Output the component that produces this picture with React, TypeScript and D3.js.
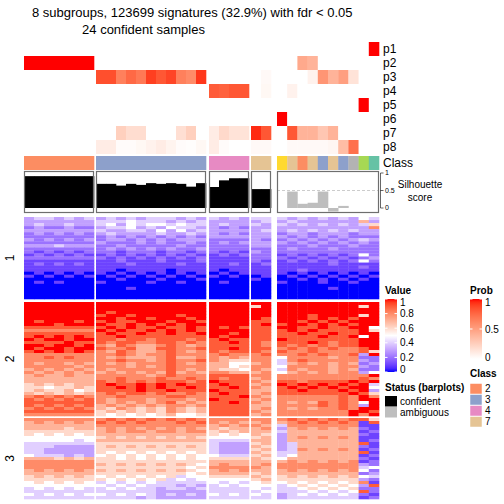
import React from "react";
import * as d3 from "d3";

// ---------- data ----------
const titleLine1 = "8 subgroups, 123699 signatures (32.9%) with fdr < 0.05";
const titleLine2 = "24 confident samples";

const groupSizes = [7, 11, 4, 2, 10];
const sampleClass = [
  2, 2, 2, 2, 2, 2, 2,
  3, 3, 3, 3, 3, 3, 3, 3, 3, 3, 3,
  4, 4, 4, 4,
  7, 7,
  6, 7, 2, 7, 3, 7, 3, 8, 5, 1,
];
const sampleConfident = [
  1, 1, 1, 1, 1, 1, 1,
  1, 1, 1, 1, 1, 1, 1, 1, 1, 1, 1,
  1, 1, 1, 1,
  1, 1,
  0, 0, 0, 0, 0, 0, 0, 0, 0, 0,
];
const silhouette = [
  0.91, 0.91, 0.91, 0.91, 0.91, 0.91, 0.91,
  0.69, 0.69, 0.64, 0.69, 0.66, 0.71, 0.69, 0.71, 0.69, 0.61, 0.71,
  0.6, 0.79, 0.85, 0.85,
  0.54, 0.54,
  0, 0.47, 0.12, 0.15, 0.47, -0.1, 0.06, 0, 0, 0,
];
const p1 = [0,0,0,0,0,0,0, 0,0,0,0,0,0,0,0,0,0,0, 0,0,0,0, 0,0, 0,0,0,0,0,0,0,0,0,1];
const p2 = [1,1,1,1,1,1,1, 0,0,0,0,0,0,0,0,0,0,0, 0,0,0,0, 0,0, 0,0,0.45,0.4,0,0,0,0,0,0];
const p3 = [0,0,0,0,0,0,0, 0.85,0.85,0.65,0.75,0.68,0.9,0.82,0.88,0.65,0.6,0.92, 0,0,0,0, 0,0.03, 0,0,0,0.07,0.55,0.4,0.5,0.15,0,0];
const p4 = [0,0,0,0,0,0,0, 0,0,0,0,0,0,0,0,0,0,0, 0.8,0.78,0.82,0.82, 0,0.04, 0,0.07,0,0,0,0,0,0,0,0];
const p5 = [0,0,0,0,0,0,0, 0,0,0,0,0,0,0,0,0,0,0, 0,0,0,0, 0,0, 0,0,0,0,0,0,0,0,1,0];
const p6 = [0,0,0,0,0,0,0, 0,0,0,0,0,0,0,0,0,0,0, 0,0,0,0, 0,0, 1,0,0,0,0,0,0,0,0,0];
const p7 = [0,0,0,0,0,0,0, 0,0,0.25,0.18,0.18,0,0,0,0.17,0.25,0, 0.1,0.2,0.15,0.15, 0.95,0.82, 0,0.82,0.4,0.4,0.3,0.4,0,0,0,0];
const p8 = [0,0,0,0,0,0,0, 0.1,0.1,0.02,0.02,0.04,0.07,0.1,0.06,0.02,0.01,0.04, 0.1,0.02,0,0, 0.03,0.03, 0,0.03,0.03,0.03,0.03,0.05,0.35,0.72,0,0];
const probRows = [p1, p2, p3, p4, p5, p6, p7, p8];
const probLabels = ["p1", "p2", "p3", "p4", "p5", "p6", "p7", "p8"];

const classColors: Record<number, string> = {
  1: "#66C2A5", 2: "#FC8D62", 3: "#8DA0CB", 4: "#E78AC3",
  5: "#A6D854", 6: "#FFD92F", 7: "#E5C494", 8: "#B3B3B3",
};
const legendClasses = [2, 3, 4, 7];
const valueTicks = [0, 0.2, 0.4, 0.6, 0.8, 1];
const probTicks = [0, 0.5, 1];
const silTicks = [0, 0.5, 1];
const splitLabels = ["1", "2", "3"];

// heatmap rows: digits 0-9 = value/10, "a" = 1 ; groups separated by spaces
const split1 = [
  "3443434 34343444343 4343 44 4343434354",
  "3333333 44454443434 3333 34 3433333373",
  "3433433 45354554544 3433 43 4343434346",
  "2322322 34453435443 3232 33 3333333338",
  "3333333 43344353534 3333 34 3434343433",
  "2323232 34333343343 3232 33 2332333233",
  "2222222 23232323232 3333 33 3232323222",
  "3232323 23323232333 2222 32 2323232343",
  "2222222 32223232232 2323 33 3232323232",
  "3334333 22322222322 2222 33 2223222322",
  "2222222 23232323223 2222 22 2322232222",
  "2121212 22122212212 2121 32 2222222222",
  "1212121 12121212121 1212 22 1212121252",
  "2222222 21212121212 1111 22 2121212123",
  "1111111 11211121112 1111 21 1212121252",
  "1212121 11121111211 1121 12 1111121111",
  "1111111 11111111111 1111 11 1111111121",
  "1111111 11011110111 1011 11 1121111111",
  "0101010 10101010101 0101 11 1010101010",
  "1010101 01010101010 1010 01 0101010101",
  "0000000 00100010001 0000 10 0010101010",
  "0101000 10000100100 0100 00 1000100100",
  "0000000 00000000000 0000 00 0000000000",
  "0000000 00010000000 0000 00 0000010000",
  "0000000 00000000000 0000 00 0000000000",
  "0000000 00000000000 0000 00 0000000000",
  "0000000 00000000000 0000 00 0000000000",
];
const split2 = [
  "aaaaaaa aaaaaaaaaaa aaaa aa aaaaaaaaaa",
  "aaaaaaa aaaaaaaaaaa aaaa 6a aaaaaaaa6a",
  "aaaaaaa aaaaaaaaaaa aaaa aa aaaaaaaaaa",
  "aaaaaaa a9aaaaaaaaa aaaa aa aaaaaaaaaa",
  "aaaaaaa 9aa9aaaa9aa aaaa aa aaa9aaaa6a",
  "aaaaaaa aa9aa9aaa9a aaaa a9 aaa9a9a9aa",
  "a9aaa9a 9a99aaa9aa9 aaaa 99 aa9a9a9aaa",
  "aaa9aaa a99a9a9a9aa aaaa 9a 9aa9a9a9aa",
  "9999999 9a9a99a99a9 a9a9 99 aa99a99aa5",
  "8888888 a9a99a9a9a9 aaaa 99 9a9a9999a6",
  "9999999 9a99a99a99a aa9a 99 99a99a99aa",
  "9a9a9a9 99a99999999 a9aa 99 9999a99a5a",
  "a9aa9aa 99899899989 9a99 99 a9999999aa",
  "9999a99 98998899898 99a9 98 999a9899aa",
  "aa9aa9a 87987789878 9999 98 98989899aa",
  "a9aa9aa 98897799889 99a9 99 898989889a",
  "9a9a9a9 87987789878 9899 98 9889888896",
  "8888888 88987889888 8988 89 889898893a",
  "8898988 87877789778 8787 88 5888878822",
  "8888888 88988789889 8766 88 4898888832",
  "8788787 87878889878 7755 78 4787878723",
  "8888878 88878789888 7756 88 5888878832",
  "7878787 87888889878 7665 87 4878878722",
  "8787878 78787879787 8877 78 5787878835",
  "7877877 88888789888 9999 88 888888888a",
  "7777777 88988898898 9899 78 8888888898",
  "7777777 98989899989 a999 87 9989999a9a",
  "6767677 9a99a9a9a99 9a99 78 a9a9a9a9a4",
  "6656676 99a9a9a99a9 99a9 87 9a9a9a9aa5",
  "6766756 9999a99a999 a999 77 99a999a9a3",
  "7676767 89899898898 9a99 78 9999999a96",
  "8989898 88988889988 999a 87 88888898a8",
  "9898989 87888788878 a999 78 88888898aa",
  "9999999 87878789787 99a9 87 878798985a",
  "9898989 78787878878 9999 77 888898983a",
  "8989898 76876768767 9999 78 87878898aa",
  "9999999 67676768767 9999 87 8888888aa9",
  "8888888 65656567556 9999 78 8888888a8a",
];
const split3 = [
  "8888888 89898989898 8888 88 8989898996",
  "7878787 98989888989 8787 78 7898989819",
  "7777777 88888888888 7878 87 4888888811",
  "7777677 78787878787 7677 78 3787878721",
  "6666666 78788788788 6767 77 4777777712",
  "6565656 77777777777 6565 76 3777777721",
  "5555555 67676767676 5555 67 3787878711",
  "5555545 77777777777 4444 77 3777777712",
  "4444444 66666666666 4333 67 3477777791",
  "4443333 67676767676 4333 76 3477777721",
  "4433333 66666666666 4333 67 3487878712",
  "4433333 65656565656 4333 76 4477777791",
  "5444343 56565656565 5444 67 4577777712",
  "7776767 66565656565 6666 76 5777777721",
  "8888888 66666666666 7777 77 7878787812",
  "8888888 76767676765 7877 78 8888888832",
  "8888888 66666666656 8888 87 8888888845",
  "7878787 76767676765 7878 77 7878787852",
  "7777777 66666666656 7777 67 7777777723",
  "6767676 56565656455 6666 76 6767676754",
  "6666666 65656564545 5555 67 6666666632",
  "5656565 45454544444 5454 56 5656565681",
  "5555555 54545444343 4545 55 4565656539",
  "4545454 45454434434 4444 54 4456565622",
  "4444444 44444433333 4444 45 4445454592",
  "5454545 54545434343 5454 54 3454545421",
  "4444444 44443433333 4444 44 3444444412",
];
const splitRows = [split1, split2, split3];

// ---------- layout ----------
const groupX: [number, number][] = [[24, 94], [96, 206], [209, 249], [251, 271], [277, 379]];
const splitY: [number, number][] = [[217, 299], [302, 416], [418, 499]];
const probTop = 42;
const probH = 14;
const classY = 156;
const classH = 14;
const silBox: [number, number] = [171, 213];
const FONT = "'Liberation Sans', Arial, Helvetica, sans-serif";

function decode(row: string): number[] {
  return row.replace(/\s/g, "").split("").map((c) => (c === "a" ? 1 : parseInt(c, 10) / 10));
}

export default function App() {
  const valueColor = d3.scaleLinear<string>().domain([0, 0.5, 1]).range(["blue", "white", "red"]).interpolate(d3.interpolateLab);
  const probColor = d3.scaleLinear<string>().domain([0, 1]).range(["white", "red"]).interpolate(d3.interpolateLab);

  const cols: { x: number; w: number; g: number }[] = [];
  groupSizes.forEach((n, g) => {
    const xs = d3.scaleBand<number>().domain(d3.range(n)).range(groupX[g]).paddingInner(0).paddingOuter(0);
    for (let i = 0; i < n; i++) cols.push({ x: xs(i)!, w: xs.bandwidth(), g });
  });

  const silY = d3.scaleLinear().domain([0, 1]).range([208, 173]);

  const cells: React.ReactNode[] = [];
  splitRows.forEach((rows, s) => {
    const ys = d3.scaleBand<number>().domain(d3.range(rows.length)).range(splitY[s]);
    rows.forEach((r, ri) => {
      const vals = decode(r);
      vals.forEach((v, ci) => {
        const c = cols[ci];
        if (!c) return;
        cells.push(
          <rect key={`h${s}-${ri}-${ci}`} x={c.x} y={ys(ri)!} width={c.w + 0.3} height={ys.bandwidth() + 0.3} fill={valueColor(v)} />
        );
      });
    });
  });

  const valueLegY = d3.scaleLinear().domain([0, 1]).range([372, 299]);
  const probLegY = d3.scaleLinear().domain([0, 1]).range([359, 299]);
  const gradStops = d3.range(0, 1.0001, 0.05);

  return (
    <svg width={504} height={504} style={{ position: "absolute", left: 0, top: 0, background: "white" }} fontFamily={FONT}>
      <defs>
        <linearGradient id="valGrad" x1="0" y1="1" x2="0" y2="0">
          {gradStops.map((t) => (
            <stop key={t} offset={t} stopColor={valueColor(t)} />
          ))}
        </linearGradient>
        <linearGradient id="probGrad" x1="0" y1="1" x2="0" y2="0">
          {gradStops.map((t) => (
            <stop key={t} offset={t} stopColor={probColor(t)} />
          ))}
        </linearGradient>
      </defs>
      <rect x={0} y={0} width={504} height={504} fill="white" />

      {/* title */}
      <text x={32} y={17} fontSize={13} fill="black">{titleLine1}</text>
      <text x={143.5} y={34} fontSize={13} fill="black" textAnchor="middle">{titleLine2}</text>

      {/* probability rows */}
      {probRows.map((row, r) =>
        row.map((v, ci) => (
          <rect key={`p${r}-${ci}`} x={cols[ci].x} y={probTop + r * probH} width={cols[ci].w + 0.3} height={probH} fill={probColor(v)} />
        ))
      )}
      {probLabels.map((l, r) => (
        <text key={l} x={383} y={probTop + r * probH + probH / 2} dy="0.35em" fontSize={12}>{l}</text>
      ))}

      {/* class row */}
      {sampleClass.map((c, ci) => (
        <rect key={`c${ci}`} x={cols[ci].x} y={classY} width={cols[ci].w + 0.3} height={classH} fill={classColors[c]} />
      ))}
      <text x={383} y={classY + classH / 2} dy="0.35em" fontSize={12}>Class</text>

      {/* silhouette */}
      {groupX.map(([x0, x1], g) => (
        <line key={`sd${g}`} x1={x0} x2={x1} y1={silY(0.5)} y2={silY(0.5)} stroke="#cccccc" strokeWidth={1} strokeDasharray="3,2" />
      ))}
      {silhouette.map((v, ci) => {
        const y0 = silY(0), y1 = silY(v);
        return (
          <rect key={`s${ci}`} x={cols[ci].x} y={Math.min(y0, y1)} width={cols[ci].w + 0.3} height={Math.abs(y1 - y0)} fill={sampleConfident[ci] ? "black" : "#bebebe"} />
        );
      })}
      {groupX.map(([x0, x1], g) => (
        <rect key={`sb${g}`} x={x0 + 0.5} y={silBox[0] + 0.5} width={x1 - x0 - 1} height={silBox[1] - silBox[0] - 1} fill="none" stroke="#6e6e6e" strokeWidth={1.2} />
      ))}
      <line x1={380.5} x2={380.5} y1={silY(0)} y2={silY(1)} stroke="black" strokeWidth={0.6} />
      {silTicks.map((t) => (
        <g key={`st${t}`}>
          <line x1={380.5} x2={383.5} y1={silY(t)} y2={silY(t)} stroke="black" strokeWidth={0.6} />
          <text x={385} y={silY(t)} dy="0.35em" fontSize={7}>{t}</text>
        </g>
      ))}
      <text x={420} y={184.5} dy="0.35em" fontSize={10} textAnchor="middle">Silhouette</text>
      <text x={420} y={197.5} dy="0.35em" fontSize={10} textAnchor="middle">score</text>

      {/* heatmap */}
      {cells}
      {splitLabels.map((l, s) => {
        const cy = (splitY[s][0] + splitY[s][1]) / 2;
        return (
          <text key={`sl${l}`} x={0} y={0} transform={`translate(14,${cy}) rotate(-90)`} fontSize={12} textAnchor="middle">{l}</text>
        );
      })}

      {/* value legend */}
      <text x={385} y={294} fontSize={10} fontWeight="bold">Value</text>
      <rect x={385} y={299} width={12} height={73} fill="url(#valGrad)" />
      {valueTicks.map((t) => {
        const y = valueLegY(t);
        const ly = Math.max(302.5, Math.min(369.5, y));
        return (
          <g key={`vt${t}`}>
            <line x1={385} x2={387.5} y1={y} y2={y} stroke="white" strokeWidth={1} />
            <line x1={394.5} x2={397} y1={y} y2={y} stroke="white" strokeWidth={1} />
            <text x={400} y={ly} dy="0.35em" fontSize={10}>{t}</text>
          </g>
        );
      })}

      {/* status legend */}
      <text x={385} y={391} fontSize={10} fontWeight="bold">Status (barplots)</text>
      <rect x={385} y={396} width={12} height={10.5} fill="black" />
      <rect x={385} y={407} width={12} height={10.5} fill="#bebebe" />
      <text x={400} y={401.5} dy="0.35em" fontSize={10}>confident</text>
      <text x={400} y={412.5} dy="0.35em" fontSize={10}>ambiguous</text>

      {/* prob legend */}
      <text x={470} y={294} fontSize={10} fontWeight="bold">Prob</text>
      <rect x={470} y={299} width={12} height={60} fill="url(#probGrad)" />
      {probTicks.map((t) => {
        const y = probLegY(t);
        const ly = Math.max(302.5, Math.min(357, y));
        return (
          <g key={`pt${t}`}>
            <line x1={470} x2={472.5} y1={y} y2={y} stroke="white" strokeWidth={1} />
            <line x1={479.5} x2={482} y1={y} y2={y} stroke="white" strokeWidth={1} />
            <text x={485} y={ly} dy="0.35em" fontSize={10}>{t}</text>
          </g>
        );
      })}

      {/* class legend */}
      <text x={470} y={377} fontSize={10} fontWeight="bold">Class</text>
      {legendClasses.map((c, i) => (
        <g key={`lc${c}`}>
          <rect x={470} y={383.5 + i * 11} width={12} height={10.5} fill={classColors[c]} stroke="white" strokeWidth={0.5} />
          <text x={485} y={388.8 + i * 11} dy="0.35em" fontSize={10}>{c}</text>
        </g>
      ))}
    </svg>
  );
}
